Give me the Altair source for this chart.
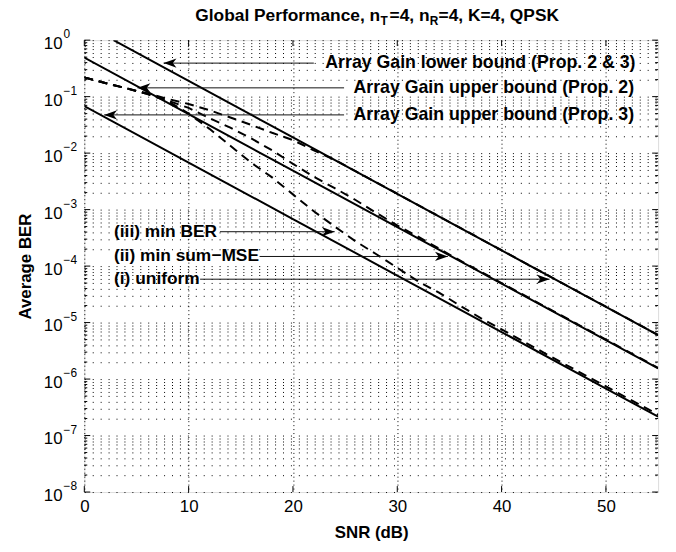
import altair as alt
import pandas as pd

# ---------------- data ----------------
# solid bound lines (straight in log scale)
snr_lower = [2.8, 10, 20, 30, 40, 50, 55]
ber_lower = [1.0, 1.9e-1, 1.9e-2, 1.9e-3, 1.9e-4, 1.9e-5, 6.0e-6]
snr_upper = [0, 10, 20, 30, 40, 50, 55]
ber_upper2 = [4.9e-1, 4.9e-2, 4.9e-3, 4.9e-4, 4.9e-5, 4.9e-6, 1.55e-6]
ber_upper3 = [6.8e-2, 6.8e-3, 6.8e-4, 6.8e-5, 6.8e-6, 6.8e-7, 2.16e-7]

# dashed simulated curves
snr_curves = [0, 2, 4, 6, 8, 10, 12, 14, 16, 18, 20, 22, 24, 26, 28, 30,
              32, 34, 36, 38, 40, 45, 50, 55]
ber_uniform = [0.219, 0.174, 0.141, 0.115, 0.0912, 0.0741, 0.0575, 0.0427,
               0.0316, 0.0229, 0.0170, 0.0112, 7.59e-3, 4.79e-3, 3.02e-3,
               1.91e-3, 1.20e-3, 7.59e-4, 4.79e-4, 3.02e-4, 1.91e-4,
               6.03e-5, 1.91e-5, 6.03e-6]
ber_minmse = [0.219, 0.174, 0.141, 0.112, 0.0851, 0.0631, 0.0417, 0.0282,
              0.0182, 0.0112, 6.46e-3, 3.80e-3, 2.40e-3, 1.48e-3, 8.71e-4,
              5.25e-4, 3.31e-4, 2.04e-4, 1.26e-4, 7.94e-5, 5.01e-5,
              1.58e-5, 5.01e-6, 1.58e-6]
ber_minber = [0.219, 0.174, 0.141, 0.112, 0.0832, 0.0501, 0.0269, 0.0135,
              6.76e-3, 3.72e-3, 1.86e-3, 9.33e-4, 5.01e-4, 2.75e-4, 1.62e-4,
              9.33e-5, 5.37e-5, 3.39e-5, 2.00e-5, 1.20e-5, 7.59e-6,
              2.34e-6, 7.41e-7, 2.34e-7]

# annotations
ann_labels = ["Array Gain lower bound (Prop. 2 & 3)",
              "Array Gain upper bound (Prop. 2)",
              "Array Gain upper bound (Prop. 3)",
              "(iii) min BER", "(ii) min sum\u2212MSE", "(i) uniform"]
ann_text_snr = [23.1, 25.8, 25.8, 2.85, 2.85, 2.85]
ann_ber = [0.392, 0.143, 0.0475, 4.06e-4, 1.48e-4, 5.86e-5]
ann_group = ["top", "top", "top", "bottom", "bottom", "bottom"]
arrow_from = [22.0, 24.9, 24.9, 13.0, 16.8, 11.1]
arrow_to = [7.6, 5.1, 1.9, 24.0, 34.85, 44.6]
arrow_dir = ["left", "left", "left", "right", "right", "right"]

# axes
x_ticks = [0, 10, 20, 30, 40, 50]
decades = [1e0, 1e-1, 1e-2, 1e-3, 1e-4, 1e-5, 1e-6, 1e-7, 1e-8]
decade_exp = ["0", "\u22121", "\u22122", "\u22123", "\u22124", "\u22125",
              "\u22126", "\u22127", "\u22128"]
minor = [k * 10.0 ** (-n) for n in range(1, 9) for k in range(2, 10)]

# ---------------- chart ----------------
W, H = 579, 456
FONT = "Liberation Sans"
xs = alt.Scale(domain=[0, 55], nice=False, zero=False)
ys = alt.Scale(type="log", domain=[1e-8, 1], nice=False)

x_axis = alt.Axis(values=x_ticks, grid=True, gridDash=[1, 3], gridColor="#000",
                  gridWidth=1, ticks=False, domain=False, labelFontSize=17,
                  labelFont=FONT, labelColor="#000", labelPadding=7, labelFlush=False,
                  title="SNR (dB)", titleFont=FONT, titleFontSize=17,
                  titleFontWeight="bold", titleColor="#000", titlePadding=10)
y_axis = alt.Axis(values=decades + minor, grid=True, gridDash=[1, 7],
                  gridColor="#000", gridWidth=1, ticks=False, domain=False,
                  labels=False, title="Average BER", titleFont=FONT,
                  titleFontSize=17, titleFontWeight="bold", titleColor="#000",
                  titlePadding=50)

bounds = pd.DataFrame({
    "snr": snr_lower + snr_upper + snr_upper,
    "ber": ber_lower + ber_upper2 + ber_upper3,
    "name": ["lower"] * len(snr_lower) + ["upper2"] * len(snr_upper) + ["upper3"] * len(snr_upper),
})
curves = pd.DataFrame({
    "snr": snr_curves * 3,
    "ber": ber_uniform + ber_minmse + ber_minber,
    "name": ["uniform"] * len(snr_curves) + ["minmse"] * len(snr_curves) + ["minber"] * len(snr_curves),
})
arrows = pd.DataFrame({"snr": arrow_from, "tip": arrow_to, "ber": ann_ber, "dir": arrow_dir})
texts = pd.DataFrame({"snr": ann_text_snr, "ber": ann_ber, "label": ann_labels, "g": ann_group})
dec_df = pd.DataFrame({"ber": decades, "exp": decade_exp})
min_df = pd.DataFrame({"ber": minor})
xt_df = pd.DataFrame({"snr": x_ticks})


def X(f):
    return alt.X(f + ":Q", scale=xs, axis=x_axis)


def Y(f):
    return alt.Y(f + ":Q", scale=ys, axis=y_axis)


bound_layer = alt.Chart(bounds).mark_line(color="#000", strokeWidth=2, clip=True).encode(
    x=X("snr"), y=Y("ber"), detail="name:N")
curve_layer = alt.Chart(curves).mark_line(color="#000", strokeWidth=2, strokeDash=[9, 6], clip=True).encode(
    x=X("snr"), y=Y("ber"), detail="name:N")

arrow_lines = alt.Chart(arrows).mark_rule(color="#111", strokeWidth=1).encode(
    x=X("snr"), x2="tip:Q", y=Y("ber"))
head_left = alt.Chart(arrows).transform_filter(alt.datum.dir == "left").mark_point(
    shape="M0,0L1,-0.36L0.72,0L1,0.36Z", size=676, filled=True, color="#000", opacity=1).encode(
    x=X("tip"), y=Y("ber"))
head_right = alt.Chart(arrows).transform_filter(alt.datum.dir == "right").mark_point(
    shape="M0,0L-1,-0.36L-0.72,0L-1,0.36Z", size=676, filled=True, color="#000", opacity=1).encode(
    x=X("tip"), y=Y("ber"))
ann_top = alt.Chart(texts).transform_filter(alt.datum.g == "top").mark_text(
    align="left", baseline="middle", fontSize=17.9, fontWeight="bold", font=FONT, color="#000").encode(
    x=X("snr"), y=Y("ber"), text="label:N")
ann_bottom = alt.Chart(texts).transform_filter(alt.datum.g == "bottom").mark_text(
    align="left", baseline="middle", fontSize=17.5, fontWeight="bold", font=FONT, color="#000").encode(
    x=X("snr"), y=Y("ber"), text="label:N")

# y tick labels 10^n
ylab_base = alt.Chart(dec_df).mark_text(align="right", baseline="middle", fontSize=17,
                                        font=FONT, color="#000", dy=4, text="10").encode(
    x=alt.value(-22), y=Y("ber"))
ylab_exp = alt.Chart(dec_df).mark_text(align="left", baseline="middle", fontSize=12,
                                       font=FONT, color="#000", dy=-6).encode(
    x=alt.value(-21), y=Y("ber"), text="exp:N")


# inward ticks on all four sides
def ytick(df, x0, x1):
    return alt.Chart(df).mark_rule(color="#000", strokeWidth=1).encode(
        y=Y("ber"), x=alt.value(x0), x2=alt.value(x1))


def xtick(y0, y1):
    return alt.Chart(xt_df).mark_rule(color="#000", strokeWidth=1).encode(
        x=X("snr"), y=alt.value(y0), y2=alt.value(y1))


ticks = [ytick(dec_df, 0, 6), ytick(dec_df, W - 6, W),
         ytick(min_df, 0, 3), ytick(min_df, W - 3, W),
         xtick(H - 6, H), xtick(0, 6)]

# title with subscripts
one = pd.DataFrame({"k": [0]})


def tpiece(txt, xpos, size, dy):
    return alt.Chart(one).mark_text(text=txt, align="left", baseline="middle", fontSize=size,
                                    fontWeight="bold", font=FONT, color="#000", dy=dy).encode(
        x=alt.value(xpos), y=alt.value(-24))


title_layers = [tpiece("Global Performance, n", 112, 17.5, 0), tpiece("T", 299, 12, 5),
                tpiece("=4, n", 308, 17.5, 0), tpiece("R", 348.5, 12, 5),
                tpiece("=4, K=4, QPSK", 357.5, 17.5, 0)]

chart = alt.layer(bound_layer, curve_layer, arrow_lines, head_left, head_right, ann_top, ann_bottom,
                  ylab_base, ylab_exp, *ticks, *title_layers).properties(
    width=W, height=H,
    padding={"left": 77, "top": 30, "right": 10, "bottom": 50},
    autosize=alt.AutoSizeParams(type="none"),
).configure_view(stroke="#000", strokeWidth=1).configure(font=FONT, background="white")

chart.save("out.html", embed_options={"renderer": "svg", "actions": False})
